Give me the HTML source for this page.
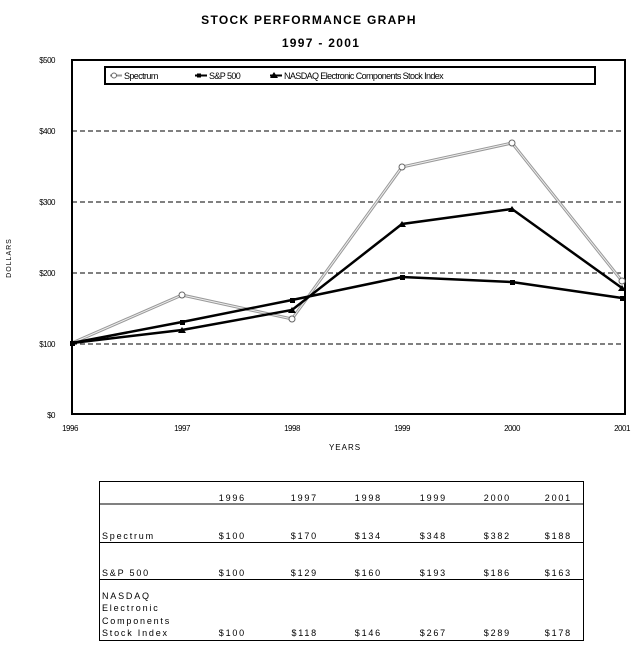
<!DOCTYPE html>
<html><head><meta charset="utf-8"><style>
html,body{margin:0;padding:0;background:#fff;}
svg{display:block;font-family:"Liberation Sans",Arial,sans-serif;}
</style></head><body>
<svg width="640" height="650" viewBox="0 0 640 650" xmlns="http://www.w3.org/2000/svg">
<text x="309" y="24" text-anchor="middle" font-size="12" font-weight="bold" letter-spacing="1.3">STOCK PERFORMANCE GRAPH</text>
<text x="321" y="47" text-anchor="middle" font-size="12" font-weight="bold" letter-spacing="1.3">1997 - 2001</text>
<g stroke="#000" stroke-width="1" stroke-dasharray="5,3">
<line x1="72" y1="131" x2="625" y2="131"/>
<line x1="72" y1="202" x2="625" y2="202"/>
<line x1="72" y1="273" x2="625" y2="273"/>
<line x1="72" y1="344" x2="625" y2="344"/>
</g>
<rect x="72" y="60" width="553" height="354" fill="none" stroke="#000" stroke-width="2"/>
<g font-size="8" text-anchor="end" letter-spacing="-0.5">
<text x="55" y="63">$500</text><text x="55" y="134">$400</text><text x="55" y="205">$300</text>
<text x="55" y="276">$200</text><text x="55" y="347">$100</text><text x="55" y="418">$0</text>
</g>
<g font-size="8" text-anchor="middle" letter-spacing="-0.5">
<text x="70" y="431">1996</text><text x="182" y="431">1997</text><text x="292" y="431">1998</text>
<text x="402" y="431">1999</text><text x="512" y="431">2000</text><text x="622" y="431">2001</text>
</g>
<text x="345" y="450" font-size="8" text-anchor="middle" letter-spacing="1">YEARS</text>
<text transform="translate(11,258) rotate(-90)" font-size="7" text-anchor="middle" letter-spacing="1">DOLLARS</text>
<polyline points="72,343 182,295 292,319 402,167 512,143 622,281" fill="none" stroke="#999" stroke-width="3"/>
<polyline points="72,343 182,295 292,319 402,167 512,143 622,281" fill="none" stroke="#eee" stroke-width="1"/>
<polyline points="72,343 182,322 292,300 402,277 512,282 622,298" fill="none" stroke="#000" stroke-width="2.5"/>
<polyline points="72,343 182,330 292,310 402,224 512,209 622,288" fill="none" stroke="#000" stroke-width="2.5"/>
<g fill="#000">
<rect x="70" y="341" width="5" height="5"/><rect x="180" y="320" width="5" height="5"/><rect x="290" y="298" width="5" height="5"/><rect x="400" y="275" width="5" height="5"/><rect x="510" y="280" width="5" height="5"/><rect x="620" y="296" width="5" height="5"/>
<polygon points="182,327 186,333 178,333"/><polygon points="292,307 296,313 288,313"/><polygon points="402,221 406,227 398,227"/><polygon points="512,206 516,212 508,212"/><polygon points="622,285 626,291 618,291"/>
</g>
<g fill="#fff" stroke="#666" stroke-width="1">
<circle cx="182" cy="295" r="3"/><circle cx="292" cy="319" r="3"/><circle cx="402" cy="167" r="3"/><circle cx="512" cy="143" r="3"/><circle cx="622" cy="281" r="3"/>
</g>
<rect x="105" y="67" width="490" height="17" fill="#fff" stroke="#000" stroke-width="2"/>
<g font-size="9" letter-spacing="-0.6">
<line x1="110" y1="75.5" x2="122" y2="75.5" stroke="#999" stroke-width="2"/><circle cx="114" cy="75.5" r="2.5" fill="#fff" stroke="#666"/>
<text x="124" y="79">Spectrum</text>
<line x1="195" y1="75.5" x2="207" y2="75.5" stroke="#000" stroke-width="2"/><rect x="197" y="73.5" width="4" height="4"/>
<text x="209" y="79">S&amp;P 500</text>
<line x1="270" y1="75.5" x2="282" y2="75.5" stroke="#000" stroke-width="2"/><polygon points="274,72 278,78 270,78"/>
<text x="284" y="79">NASDAQ Electronic Components Stock Index</text>
</g>
<g stroke="#000" stroke-width="1" fill="none">
<rect x="99.5" y="481.5" width="484" height="159"/>
<line x1="99.5" y1="504" x2="583.5" y2="504"/>
<line x1="99.5" y1="542.5" x2="583.5" y2="542.5"/>
<line x1="99.5" y1="579.5" x2="583.5" y2="579.5"/>
</g>
<g font-size="9" letter-spacing="1.8">
<g text-anchor="end">
<text x="246" y="501">1996</text><text x="318" y="501">1997</text><text x="382" y="501">1998</text><text x="447" y="501">1999</text><text x="511" y="501">2000</text><text x="572" y="501">2001</text>
<text x="246" y="539">$100</text><text x="318" y="539">$170</text><text x="382" y="539">$134</text><text x="447" y="539">$348</text><text x="511" y="539">$382</text><text x="572" y="539">$188</text>
<text x="246" y="576">$100</text><text x="318" y="576">$129</text><text x="382" y="576">$160</text><text x="447" y="576">$193</text><text x="511" y="576">$186</text><text x="572" y="576">$163</text>
<text x="246" y="636">$100</text><text x="318" y="636">$118</text><text x="382" y="636">$146</text><text x="447" y="636">$267</text><text x="511" y="636">$289</text><text x="572" y="636">$178</text>
</g>
<text x="102" y="539">Spectrum</text>
<text x="102" y="576">S&amp;P 500</text>
<text x="102" y="599">NASDAQ</text>
<text x="102" y="611">Electronic</text>
<text x="102" y="624">Components</text>
<text x="102" y="636">Stock Index</text>
</g>
</svg>
</body></html>
